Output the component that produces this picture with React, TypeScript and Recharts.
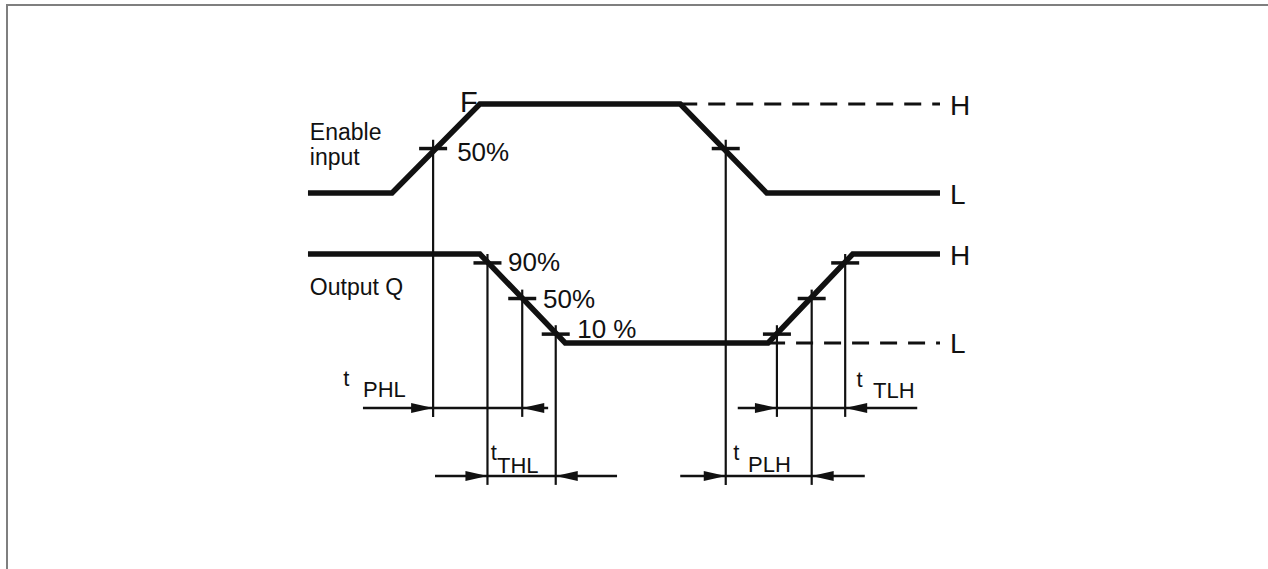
import React from 'react';
import { ComposedChart, Line, Scatter, XAxis, YAxis, ReferenceLine } from 'recharts';

const INK = '#111111';
const FONT = '"Liberation Sans", Arial, sans-serif';

// time axis: 0 = left end of the traces, 100 = right end
const X_DOMAIN: [number, number] = [-48.73, 151.9];
// level axis: output Q swings 0..1, enable input sits above it
const Y_DOMAIN: [number, number] = [-2.539, 3.854];
const ENABLE_BASE = 1.685;
const ROW_A = -0.73;
const ROW_B = -1.494;

// Enable input
const enableT = [0, 13.3, 27.2, 58.9, 72.6, 100];
const enableLevel = [0, 0, 1, 1, 0, 0];
const enableHoldT = [58.9, 100];

// Output Q
const outputT = [0, 27.2, 40.7, 72.8, 86.2, 100];
const outputLevel = [1, 1, 0, 0, 1, 1];
const outputHoldT = [72.8, 100];

// threshold crossings (50%, 90%, 10% marks)
const crossT = [19.8, 66.1, 28.4, 33.9, 39.2, 74.2, 79.7, 85.0];
const crossSignal = ['en', 'en', 'q', 'q', 'q', 'q', 'q', 'q'];
const crossLevel = [0.5, 0.5, 0.9, 0.5, 0.1, 0.1, 0.5, 0.9];
const crossRow = ['A', 'B', 'B', 'A', 'B', 'A', 'B', 'A'];

// timing dimensions
const dimNames = ['PHL', 'THL', 'PLH', 'TLH'];
const dimRow = ['A', 'B', 'B', 'A'];
const dimStart = [8.7, 20.1, 58.9, 68.0];
const dimEnd = [38.0, 48.9, 88.1, 96.4];
const dimFrom = [19.8, 28.4, 66.1, 74.2];
const dimTo = [33.9, 39.2, 79.7, 85.0];

// text labels
const labelText = [
  'Enable', 'input', 'F', '50%', 'H', 'L',
  'Output Q', '90%', '50%', '10 %', 'H', 'L',
  't', 'PHL', 't', 'THL', 't', 'PLH', 't', 'TLH',
];
const labelT = [
  0.3, 0.3, 24.05, 23.6, 101.6, 101.6,
  0.3, 31.65, 37.2, 42.6, 101.6, 101.6,
  5.6, 8.7, 28.9, 29.9, 67.3, 69.62, 86.8, 89.4,
];
const labelV = [
  2.28, 2.0, 2.596, 2.045, 2.562, 1.562,
  0.539, 0.809, 0.393, 0.056, 0.876, -0.112,
  -0.483, -0.607, -1.315, -1.461, -1.315, -1.449, -0.494, -0.618,
];
const labelSize = [
  23, 23, 29, 26, 28, 28,
  23, 26, 26, 26, 28, 28,
  22, 22, 22, 22, 22, 22, 22, 22,
];

const rowLevel = (r: string) => (r === 'A' ? ROW_A : ROW_B);

const enableData = enableT.map((t, i) => ({ t, v: enableLevel[i] + ENABLE_BASE }));
const enableHold = enableHoldT.map((t) => ({ t, v: 1 + ENABLE_BASE }));
const outputData = outputT.map((t, i) => ({ t, v: outputLevel[i] }));
const outputHold = outputHoldT.map((t) => ({ t, v: 0 }));

const crossData = crossT.map((t, i) => ({
  t,
  v: crossLevel[i] + (crossSignal[i] === 'en' ? ENABLE_BASE : 0),
  row: crossRow[i],
}));

const arrowData = dimNames.flatMap((_, i) => [
  { t: dimFrom[i], v: rowLevel(dimRow[i]), dir: 1 },
  { t: dimTo[i], v: rowLevel(dimRow[i]), dir: -1 },
]);

const labelData = labelText.map((text, i) => ({ t: labelT[i], v: labelV[i], text, size: labelSize[i] }));

const CrossTick = (p: any) => (
  <line x1={p.cx - 14} x2={p.cx + 14} y1={p.cy} y2={p.cy} stroke={INK} strokeWidth={3.5} />
);

const ArrowHead = (p: any) => {
  const d = p.payload.dir;
  const len = 22;
  const w = 5;
  return (
    <polygon
      points={`${p.cx},${p.cy} ${p.cx - d * len},${p.cy - w} ${p.cx - d * len},${p.cy + w}`}
      fill={INK}
    />
  );
};

const TextMark = (p: any) => (
  <text x={p.cx} y={p.cy} fontSize={p.payload.size} fontFamily={FONT} fill={INK}>
    {p.payload.text}
  </text>
);

export default function App() {
  return (
    <div style={{ position: 'absolute', left: 0, top: 0, width: 1268, height: 569, background: '#fff' }}>
      <div
        style={{
          position: 'absolute',
          left: 6,
          top: 4,
          width: 1262,
          height: 565,
          boxSizing: 'border-box',
          borderTop: '2px solid #7f7f7f',
          borderLeft: '2px solid #7f7f7f',
        }}
      />
      <ComposedChart width={1268} height={569} margin={{ top: 0, right: 0, bottom: 0, left: 0 }}>
        <XAxis type="number" dataKey="t" domain={X_DOMAIN} allowDataOverflow hide />
        <YAxis type="number" domain={Y_DOMAIN} allowDataOverflow hide />

        {crossData.map((c, i) => (
          <ReferenceLine
            key={`drop-${i}`}
            segment={[
              { x: c.t, y: c.v + 0.1 },
              { x: c.t, y: rowLevel(c.row) - 0.1 },
            ]}
            stroke={INK}
            strokeWidth={2.2}
            ifOverflow="visible"
          />
        ))}

        {dimNames.map((n, i) => (
          <ReferenceLine
            key={`dim-${n}`}
            segment={[
              { x: dimStart[i], y: rowLevel(dimRow[i]) },
              { x: dimEnd[i], y: rowLevel(dimRow[i]) },
            ]}
            stroke={INK}
            strokeWidth={2.6}
            ifOverflow="visible"
          />
        ))}

        <Line data={enableHold} dataKey="v" stroke={INK} strokeWidth={3} strokeDasharray="17 11"
          dot={false} activeDot={false} isAnimationActive={false} />
        <Line data={outputHold} dataKey="v" stroke={INK} strokeWidth={3} strokeDasharray="17 11"
          dot={false} activeDot={false} isAnimationActive={false} />
        <Line data={enableData} dataKey="v" stroke={INK} strokeWidth={5.5}
          dot={false} activeDot={false} isAnimationActive={false} />
        <Line data={outputData} dataKey="v" stroke={INK} strokeWidth={5.5}
          dot={false} activeDot={false} isAnimationActive={false} />

        <Scatter data={crossData} dataKey="v" shape={CrossTick} isAnimationActive={false} />
        <Scatter data={arrowData} dataKey="v" shape={ArrowHead} isAnimationActive={false} />
        <Scatter data={labelData} dataKey="v" shape={TextMark} isAnimationActive={false} />
      </ComposedChart>
    </div>
  );
}
